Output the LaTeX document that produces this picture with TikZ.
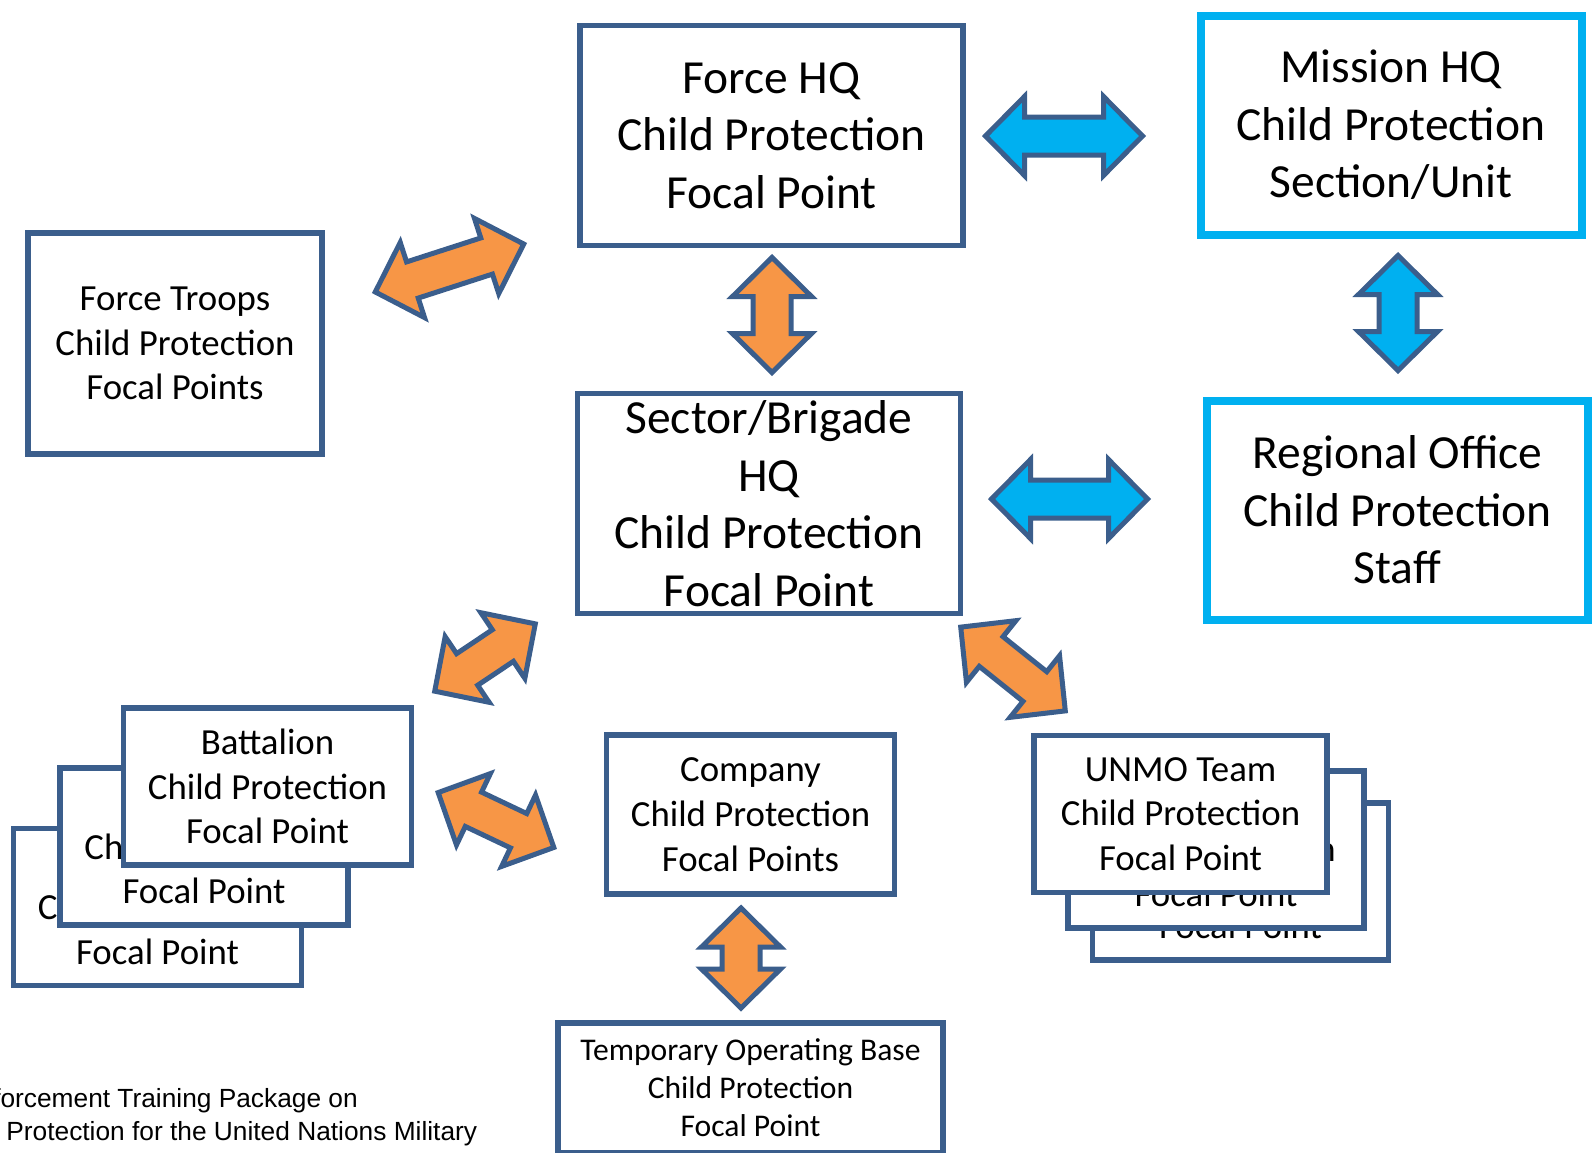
\documentclass[tikz,border=0pt]{standalone}
\usepackage{fontspec}
\setmainfont{Carlito}
\newfontfamily\footfont{Liberation Sans}
\usepackage{tikz}
\usetikzlibrary{positioning}

\definecolor{boxblue}{HTML}{3B5E8C}
\definecolor{cpcyan}{HTML}{00B0F0}
\definecolor{cporange}{HTML}{F79646}

% block double arrow: {center}{angle}{length}{fill}
\newcommand{\dblarrow}[4]{%
  \begin{scope}[shift={#1}, rotate=#2]
    \pgfmathsetmacro\hl{#3/2-3.5}
    \pgfmathsetmacro\hb{\hl-39}
    \filldraw[arrowline, fill=#4] (-\hl,0) -- (-\hb,39.5) -- (-\hb,19) -- (\hb,19) -- (\hb,39.5)
      -- (\hl,0) -- (\hb,-39.5) -- (\hb,-19) -- (-\hb,-19) -- (-\hb,-39.5) -- cycle;
  \end{scope}}

\begin{document}
\begin{tikzpicture}[x=1pt, y=-1pt]
      \tikzset{box/.style = {draw=boxblue, line width=5.5pt, fill=white, align=center, inner sep=0pt}}
      \tikzset{bigbox/.style = {box, minimum width=383pt, minimum height=220pt, font=\fontsize{47.5}{57.6}\selectfont}}
      \tikzset{cyanbox/.style = {bigbox, draw=cpcyan, line width=8pt, minimum width=381pt, minimum height=219pt}}
      \tikzset{smallbox/.style = {box, minimum width=293pt, minimum height=157pt, font=\fontsize{36.8}{44.7}\selectfont}}
      \tikzset{arrowline/.style = {draw=boxblue, line width=5pt}}

      \useasboundingbox (0,0) rectangle (1594,1152);
      \clip (0,0) rectangle (1594,1152);

      % top level
      \node[bigbox] (forcehq) at (771.5,135.5) {Force HQ\\Child Protection\\Focal Point};
      \node[cyanbox] (missionhq) at (1391,125) {Mission HQ\\Child Protection\\Section/Unit};
      \node[smallbox, minimum width=294pt, minimum height=221pt] (troops) at (175,343.5)
        {Force Troops\\Child Protection\\Focal Points};

      % sector level
      \node[bigbox] (sector) at (769,503.5) {Sector/Brigade\\HQ\\Child Protection\\Focal Point};
      \node[cyanbox] (regional) at (1397.5,510) {Regional Office\\Child Protection\\Staff};

      % battalion stack
      \node[smallbox, minimum width=288pt] (bat3) at (157.5,907) {Battalion\\Child Protection\\Focal Point};
      \node[smallbox, minimum width=288pt] (bat2) at (204,846.5) {Battalion\\Child Protection\\Focal Point};
      \node[smallbox, minimum width=288pt] (bat1) at (267.5,786.5) {Battalion\\Child Protection\\Focal Point};

      \node[smallbox, minimum width=288pt, minimum height=159pt] (company) at (750.5,814.5) {Company\\Child Protection\\Focal Points};

      % UNMO stack
      \node[smallbox, minimum width=296pt] (unmo3) at (1240.5,881.5) {UNMO Team\\Child Protection\\Focal Point};
      \node[smallbox, minimum width=296pt] (unmo2) at (1216,849.5) {UNMO Team\\Child Protection\\Focal Point};
      \node[smallbox] (unmo1) at (1180.5,814) {UNMO Team\\Child Protection\\Focal Point};

      \node[box, minimum width=385pt, minimum height=130pt, font=\fontsize{31.6}{38.1}\selectfont]
        (tob) at (750.5,1088) {Temporary Operating Base\\Child Protection\\Focal Point};

      % arrows
      \dblarrow{(1064,136)}{0}{164}{cpcyan}
      \dblarrow{(1069.5,499)}{0}{163}{cpcyan}
      \dblarrow{(1398,313)}{90}{122}{cpcyan}
      \dblarrow{(772,315)}{90}{122}{cporange}
      \dblarrow{(741,958)}{90}{107}{cporange}
      \dblarrow{(449.5,268)}{17.9}{163}{cporange}
      \dblarrow{(485,657.5)}{33.8}{128}{cporange}
      \dblarrow{(496,820)}{-25.4}{135}{cporange}
      \dblarrow{(1013,669)}{-38.7}{141}{cporange}

      \node[anchor=west, align=left, inner sep=0pt, font=\footfont\fontsize{26.3}{32.5}\selectfont]
        (footer) at (-61,1117) {Reinforcement Training Package on\\Child Protection for the United Nations Military};
\end{tikzpicture}
\end{document}
